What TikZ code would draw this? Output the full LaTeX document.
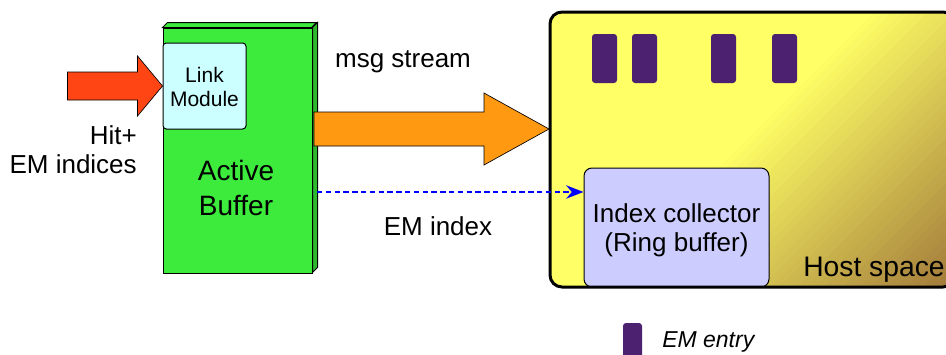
\documentclass[tikz,border=0pt]{standalone}
\usepackage{fontspec}
\setmainfont{Liberation Sans}
\usetikzlibrary{arrows.meta}
\definecolor{redarrow}{HTML}{FF4514}
\definecolor{orangearrow}{HTML}{FF9912}
\definecolor{abgreen}{HTML}{3CEB3C}
\definecolor{abside}{HTML}{2EB82E}
\definecolor{lmcyan}{HTML}{CCFFFF}
\definecolor{iclav}{HTML}{CCCCFF}
\definecolor{empurple}{HTML}{4C2270}
\definecolor{hostyellow}{HTML}{FFFF66}
\definecolor{hostbrown}{HTML}{A0783A}
\begin{document}
\begin{tikzpicture}[x=0.75pt,y=-0.75pt,
  txt/.style={inner sep=0pt, anchor=base, font=\fontsize{19.5}{23}\selectfont},
  smalltxt/.style={inner sep=0pt, anchor=base, font=\fontsize{15.75}{18}\selectfont},
  bigtxt/.style={inner sep=0pt, anchor=base, font=\fontsize{21}{25}\selectfont},
  emrect/.style={fill=empurple, rounded corners=2.25pt, inner sep=0pt, minimum width=18.75pt, minimum height=36.75pt},
  thinborder/.style={draw=black, line width=0.75pt}]
\useasboundingbox (0,0) rectangle (946,354);

% host space background with diagonal gradient
\begin{scope}
  \clip[rounded corners=9pt] (550,12) rectangle (955,287);
  \fill[hostyellow] (550,12) rectangle (955,287);
  \foreach \i in {0,...,40}{
    \pgfmathsetmacro\a{877+9*\i}
    \pgfmathsetmacro\b{\a+10}
    \pgfmathsetmacro\p{min(100,\i*2.5)}
    \fill[hostbrown!\p!hostyellow] ({\a},0) -- ({\b},0) -- ({\b-400},400) -- ({\a-400},400) -- cycle;
  }
\end{scope}

% EM entries
\node[emrect] (e1) at (604.5,58.5) {};
\node[emrect] (e2) at (644.5,58.5) {};
\node[emrect] (e3) at (723.5,58.5) {};
\node[emrect] (e4) at (784.5,58.5) {};

% index collector
\node[thinborder, fill=iclav, rounded corners=6pt, inner sep=0pt,
      minimum width=138.75pt, minimum height=89.25pt] (ic) at (676.5,227.5) {};
\node[txt] (ict1) at (676.5,222) {Index collector};
\node[txt] (ict2) at (676.5,251) {(Ring buffer)};

% host border
\node[draw=black, line width=2.25pt, rounded corners=9pt, inner sep=0pt,
      minimum width=303.75pt, minimum height=206.25pt] (host) at (752.5,149.5) {};
\node[inner sep=0pt, anchor=base west, font=\fontsize{21.2}{25}\selectfont] (hostlbl) at (803,276) {Host space};

% active buffer (3D box)
\node[thinborder, fill=abgreen, inner sep=0pt,
      minimum width=111.75pt, minimum height=183.75pt] (ab) at (237.5,150.5) {};
\draw[thinborder, fill=abgreen] (ab.north west) -- ++(5,-5) -- ++(149,0) -- ++(-5,5) -- cycle;
\draw[thinborder, fill=abside] (ab.north east) -- ++(5,-5) -- ++(0,245) -- ++(-5,5) -- cycle;
\node[bigtxt] (abt1) at (236,180.5) {Active};
\node[bigtxt] (abt2) at (236,215) {Buffer};

% link module
\node[thinborder, fill=lmcyan, rounded corners=2.5pt, inner sep=0pt,
      minimum width=62.25pt, minimum height=64.5pt] (lm) at (204.5,86) {};
\node[smalltxt] (lmt1) at (204.5,82) {Link};
\node[smalltxt] (lmt2) at (204.5,106) {Module};

% input arrow
\draw[line width=0.5pt, fill=redarrow] (lm.west) -- ++(-25,-30) -- ++(0,16) -- ++(-70,0)
  -- ++(0,28) -- ++(70,0) -- ++(0,16) -- cycle;
\node[txt, anchor=base east] (hit1) at (137,144) {Hit+};
\node[txt, anchor=base east] (hit2) at (137,173) {EM indices};

% msg stream arrow
\coordinate (ostip) at (549,129);
\draw[line width=0.5pt, fill=orangearrow] (ostip) -- ++(-65,-36) -- ++(0,19) -- ++(-170,0)
  -- ++(0,34) -- ++(170,0) -- ++(0,19) -- cycle;
\node[txt] (msg) at (403,67) {msg stream};

% EM index dashed arrow
\coordinate (ds) at (317,192);
\draw[blue, line width=1.5pt, dash pattern=on 4pt off 2.6pt,
      -{Stealth[length=13pt,width=10pt]}] (ds) -- (ds -| ic.west);
\node[txt] (emi) at (438,235) {EM index};

% legend
\node[fill=empurple, rounded corners=2.25pt, inner sep=0pt,
      minimum width=14.25pt, minimum height=31.5pt] (leg) at (632.5,344) {};
\node[inner sep=0pt, anchor=base west, font=\fontsize{17.25}{20}\selectfont\itshape] (legt) at (662,347) {EM entry};
\end{tikzpicture}
\end{document}
